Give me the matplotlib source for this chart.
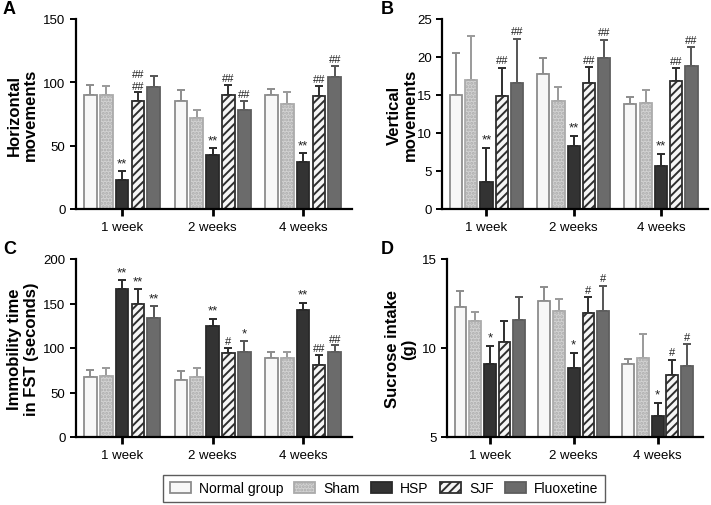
import numpy as np
import matplotlib.pyplot as plt

plt.rcParams['font.family'] = ['Liberation Sans', 'DejaVu Sans']
plt.rcParams['hatch.linewidth'] = 1.4

weeks = ['1 week', '2 weeks', '4 weeks']
groups = ['Normal group', 'Sham', 'HSP', 'SJF', 'Fluoxetine']

# panel A - horizontal movements (mean, upper error end)
horiz_mean = [[90, 85, 90], [90, 72, 83], [23, 43, 37], [85, 90, 89], [96, 78, 104]]
horiz_top = [[98, 94, 95], [97, 78, 92], [30, 48, 44], [92, 98, 97], [105, 85, 113]]
horiz_marks = [['', '', ''], ['', '', ''], ['**', '**', '**'], ['##\n##', '##', '##'], ['', '##', '##']]

# panel B - vertical movements
vert_mean = [[15.0, 17.8, 13.8], [17.0, 14.2, 13.9], [3.6, 8.3, 5.6], [14.9, 16.6, 16.9], [16.6, 19.9, 18.8]]
vert_top = [[20.5, 19.9, 14.8], [22.7, 16.0, 15.6], [8.0, 9.6, 7.3], [18.6, 18.7, 18.5], [22.4, 22.3, 21.3]]
vert_marks = [['', '', ''], ['', '', ''], ['**', '**', '**'], ['##', '##', '##'], ['##', '##', '##']]

# panel C - immobility time in FST
fst_mean = [[67, 64, 89], [69, 67, 89], [166, 125, 143], [149, 94, 81], [134, 95, 95]]
fst_top = [[75, 74, 95], [78, 78, 95], [176, 133, 151], [166, 100, 92], [147, 108, 103]]
fst_marks = [['', '', ''], ['', '', ''], ['**', '**', '**'], ['**', '#', '##'], ['**', '*', '##']]

# panel D - sucrose intake
suc_mean = [[12.3, 12.65, 9.1], [11.5, 12.1, 9.45], [9.1, 8.9, 6.2], [10.35, 11.95, 8.5], [11.55, 12.1, 9.0]]
suc_top = [[13.2, 13.4, 9.4], [12.0, 12.75, 10.8], [10.1, 9.7, 6.9], [11.5, 12.85, 9.35], [12.85, 13.5, 10.2]]
suc_marks = [['', '', ''], ['', '', ''], ['*', '*', '*'], ['', '#', '#'], ['', '#', '#']]

styles = [
    dict(color='#f7f7f7', edgecolor='#8c8c8c', hatch=None, ecol='#8c8c8c'),
    dict(color='#d2d2d2', edgecolor='#ababab', hatch='.....', ecol='#9a9a9a'),
    dict(color='#333333', edgecolor='#2a2a2a', hatch=None, ecol='#2a2a2a'),
    dict(color='#f5f5f5', edgecolor='#2e2e2e', hatch='////', ecol='#2e2e2e'),
    dict(color='#6b6b6b', edgecolor='#5e5e5e', hatch=None, ecol='#555555'),
]

fig = plt.figure(figsize=(7.11, 5.06), dpi=100)
W, H = 711, 506

def box(l, t, r, b):
    return [l / W, 1 - b / H, (r - l) / W, (b - t) / H]

def panel(rect, mean, top, marks, ylim, yticks, ylabel, letter, lx, ly, labx, offset):
    ax = fig.add_axes(rect)
    x = np.arange(len(weeks))
    step, bw = 0.175, 0.14
    handles = []
    for i in range(len(groups)):
        st = styles[i]
        xs = x + (i - 2) * step
        m = np.array(mean[i])
        t = np.array(top[i])
        h = ax.bar(xs, m - ylim[0], bw, bottom=ylim[0], color=st['color'], edgecolor=st['edgecolor'],
                   hatch=st['hatch'], linewidth=1.3, label=groups[i], zorder=2)
        ax.errorbar(xs, m, yerr=[np.zeros(3), t - m], fmt='none', ecolor=st['ecol'],
                    elinewidth=1.4, capsize=3, capthick=1.4, zorder=1)
        for xx, tt, s in zip(xs, t, marks[i]):
            if s:
                fs = 9.5 if '*' in s else 8
                ax.text(xx, tt + offset, s, ha='center', va='bottom', fontsize=fs,
                        linespacing=1.2, color='#222222')
        handles.append(h)
    ax.set_xlim(-0.51, 2.54)
    ax.set_ylim(*ylim)
    ax.set_yticks(yticks)
    ax.set_xticks(x)
    ax.set_xticklabels(weeks, fontsize=9.5)
    ax.tick_params(axis='y', labelsize=9.5, width=1.4, length=4)
    ax.tick_params(axis='x', width=2, length=5)
    for s in ['top', 'right']:
        ax.spines[s].set_visible(False)
    for s in ['left', 'bottom']:
        ax.spines[s].set_linewidth(1.6)
    mid = rect[1] + rect[3] / 2
    fig.text(labx / W, mid, ylabel, rotation=90, ha='center', va='center',
             fontsize=12, fontweight='bold', linespacing=1.1)
    fig.text(lx / W, 1 - ly / H, letter, fontsize=13, fontweight='bold', ha='left', va='center')
    return handles

hs = panel(box(76, 20, 352, 210), horiz_mean, horiz_top, horiz_marks, (0, 150), [0, 50, 100, 150],
           'Horizontal\nmovements', 'A', 3, 10, 22, 1.5)
panel(box(442, 20, 708, 210), vert_mean, vert_top, vert_marks, (0, 25), [0, 5, 10, 15, 20, 25],
      'Vertical\nmovements', 'B', 381, 10, 402, 0.3)
panel(box(76, 260, 352, 438), fst_mean, fst_top, fst_marks, (0, 200), [0, 50, 100, 150, 200],
      'Immobility time\nin FST (seconds)', 'C', 3, 250, 23, 2)
panel(box(447, 260, 703, 438), suc_mean, suc_top, suc_marks, (5, 15), [5, 10, 15],
      'Sucrose intake\n(g)', 'D', 381, 250, 401, 0.15)

leg = fig.legend(hs, groups, loc='center', bbox_to_anchor=(384 / W, 1 - 489.5 / H), ncol=5,
                 fontsize=10, frameon=True, fancybox=False, edgecolor='#333333',
                 handlelength=1.5, handleheight=0.9, columnspacing=0.8, handletextpad=0.6,
                 borderpad=0.45)
leg.get_frame().set_linewidth(1.0)

fig.savefig('out.png', dpi=100)
